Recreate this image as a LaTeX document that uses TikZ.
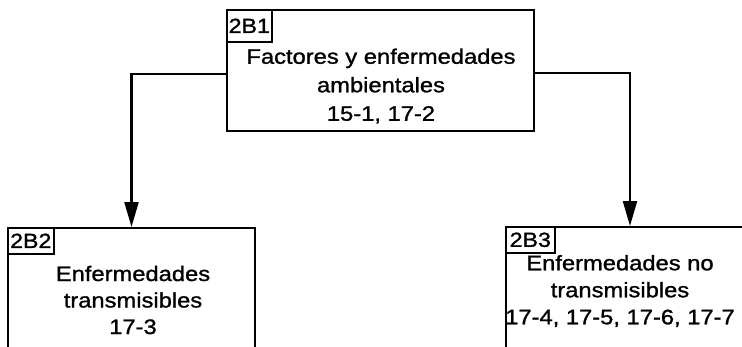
\documentclass[tikz,border=0pt]{standalone}
\usepackage{fontspec}
\setmainfont{Liberation Sans}
\newfontfamily\widesans[FakeStretch=1.13,FakeBold=1.2]{Liberation Sans}
\usetikzlibrary{arrows.meta}
\begin{document}
\begin{tikzpicture}[x=1pt,y=-1pt,
  box/.style={draw=black,line width=2pt,rectangle,inner sep=0pt},
  tag/.style={draw=black,line width=1.6pt,rectangle,inner sep=0pt,anchor=north west,font=\widesans\fontsize{20.5}{22}\selectfont},
  body/.style={align=center,inner sep=0pt},
  conn/.style={line width=2.2pt,-{Triangle[length=25pt,width=14pt]}}]
\useasboundingbox (0,0) rectangle (742,346);
\clip (0,0) rectangle (742,346);
\fill[white] (0,0) rectangle (742,346);
% boxes
\node[box,minimum width=307pt,minimum height=121pt] (b1) at (380.5,70.5) {};
\node[box,minimum width=247pt,minimum height=140pt] (b2) at (131.5,298) {};
\node[box,minimum width=248pt,minimum height=140pt] (b3) at (630,297) {};
% tags
\node[tag,minimum width=45pt,minimum height=32pt] (t1) at (b1.north west) {2B1};
\node[tag,minimum width=46pt,minimum height=26pt] (t2) at (b2.north west) {2B2};
\node[tag,minimum width=49pt,minimum height=26pt] (t3) at (b3.north west) {2B3};
% texts
\node[body,font=\widesans\fontsize{21}{28.5}\selectfont] (x1) at (381,86) {Factores y enfermedades\\ambientales\\15-1, 17-2};
\node[body,font=\widesans\fontsize{21}{26.5}\selectfont] (x2) at (133,300) {Enfermedades\\transmisibles\\17-3};
\node[body,font=\widesans\fontsize{21}{27}\selectfont] (x3) at (620,291) {Enfermedades no\\transmisibles\\17-4, 17-5, 17-6, 17-7};
% connectors
\draw[conn] (b1.west |- 0,74) -| (b2.north);
\draw[conn] (b1.east |- 0,73) -| (b3.north);
\end{tikzpicture}
\end{document}
